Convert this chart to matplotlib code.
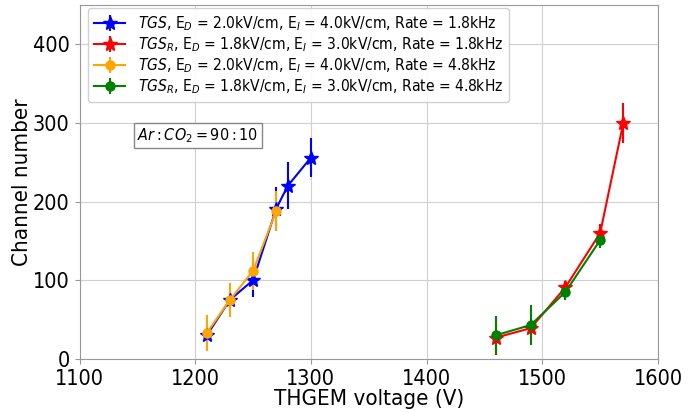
import matplotlib
matplotlib.use("Agg")
import matplotlib.pyplot as plt

plt.rcParams["font.family"] = "DejaVu Sans"
plt.rcParams["font.stretch"] = "condensed"
plt.rcParams["mathtext.fontset"] = "custom"
plt.rcParams["mathtext.rm"] = "DejaVu Sans:stretch=condensed"
plt.rcParams["mathtext.it"] = "DejaVu Sans:style=italic:stretch=condensed"
plt.rcParams["mathtext.bf"] = "DejaVu Sans:weight=bold:stretch=condensed"

# THGEM voltage scans (V) and measured peak positions (channel number)
tgs_v_18 = [1210, 1230, 1250, 1270, 1280, 1300]
tgs_ch_18 = [30, 75, 100, 191, 220, 256]
tgs_err_18 = [8, 10, 22, 28, 30, 25]

tgsr_v_18 = [1460, 1490, 1520, 1550, 1570]
tgsr_ch_18 = [27, 39, 91, 160, 300]
tgsr_err_18 = [22, 10, 8, 12, 25]

tgs_v_48 = [1210, 1230, 1250, 1270]
tgs_ch_48 = [33, 75, 112, 188]
tgs_err_48 = [23, 22, 24, 25]

tgsr_v_48 = [1460, 1490, 1520, 1550]
tgsr_ch_48 = [30, 43, 85, 151]
tgsr_err_48 = [24, 26, 10, 10]

labels = [
    r"$TGS$, E$_D$ = 2.0kV/cm, E$_I$ = 4.0kV/cm, Rate = 1.8kHz",
    r"$TGS_R$, E$_D$ = 1.8kV/cm, E$_I$ = 3.0kV/cm, Rate = 1.8kHz",
    r"$TGS$, E$_D$ = 2.0kV/cm, E$_I$ = 4.0kV/cm, Rate = 4.8kHz",
    r"$TGS_R$, E$_D$ = 1.8kV/cm, E$_I$ = 3.0kV/cm, Rate = 4.8kHz",
]

fig = plt.figure(figsize=(6.88, 4.13), dpi=100)
ax = fig.add_axes([0.1156, 0.1312, 0.8408, 0.8567])

ax.errorbar(tgs_v_18, tgs_ch_18, yerr=tgs_err_18, color="blue", marker="*",
            markersize=10, linewidth=1.5, label=labels[0])
ax.errorbar(tgsr_v_18, tgsr_ch_18, yerr=tgsr_err_18, color="red", marker="*",
            markersize=10, linewidth=1.5, label=labels[1])
ax.errorbar(tgs_v_48, tgs_ch_48, yerr=tgs_err_48, color="orange", marker="o",
            markersize=6.5, linewidth=1.5, label=labels[2])
ax.errorbar(tgsr_v_48, tgsr_ch_48, yerr=tgsr_err_48, color="green", marker="o",
            markersize=6.5, linewidth=1.5, label=labels[3])

ax.set_xlim(1100, 1600)
ax.set_ylim(0, 450)
ax.set_xticks([1100, 1200, 1300, 1400, 1500, 1600])
ax.set_yticks([0, 100, 200, 300, 400])
ax.tick_params(labelsize=15.5, color="#999999")
ax.grid(True, color="#d0d0d0", linewidth=0.8)
ax.set_axisbelow(True)
for sp in ax.spines.values():
    sp.set_color("#999999")

ax.set_xlabel("THGEM voltage (V)", fontsize=16, labelpad=0)
ax.set_ylabel("Channel number", fontsize=16, labelpad=1)

ax.text(1150, 284, r"$Ar:CO_2 = 90:10$", fontsize=11.5, va="center",
        bbox=dict(facecolor="white", edgecolor="#888888", boxstyle="square,pad=0.2"))

ax.legend(loc="upper left", bbox_to_anchor=(0.0147, 0.9915), borderaxespad=0,
          fontsize=11.2, framealpha=0.9, labelspacing=0.15, handlelength=2.0)

fig.savefig("out.png", dpi=100)
